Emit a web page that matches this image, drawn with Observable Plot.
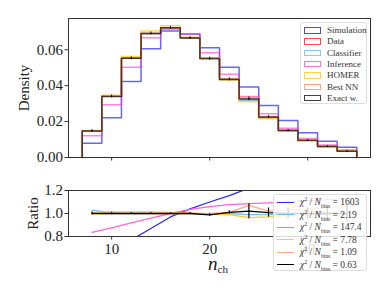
<!DOCTYPE html>
<html><head><meta charset="utf-8">
<script src="https://cdn.jsdelivr.net/npm/d3@7"></script>
<script src="https://cdn.jsdelivr.net/npm/@observablehq/plot@0.6"></script>
<style>
body{margin:0;background:#fff;}
#wrap{position:relative;width:389px;height:292px;overflow:hidden;font-family:"Liberation Serif",serif;color:#222;}
#wrap svg{position:absolute;left:0;}
.leg{position:absolute;background:rgba(255,255,255,0.82);border:1px solid #ddd;border-radius:3px;box-sizing:border-box;}
.row{position:absolute;left:0;white-space:nowrap;}
.row sup,.row sub{line-height:0;}
</style></head>
<body><div id="wrap"></div>
<script>
// ---- data ----
const edges = [7, 9, 11, 13, 15, 17, 19, 21, 23, 25, 27, 29, 31, 33, 35];
const centers = [8, 10, 12, 14, 16, 18, 20, 22, 24, 26, 28, 30, 32, 34];
const simulation = [0.0080, 0.0221, 0.0423, 0.0605, 0.0704, 0.0688, 0.0611, 0.0503, 0.0392, 0.0290, 0.0206, 0.0138, 0.0091, 0.0057];
const dataH      = [0.0147, 0.0341, 0.0553, 0.0690, 0.0722, 0.0667, 0.0556, 0.0436, 0.0322, 0.0223, 0.0150, 0.0096, 0.0061, 0.0036];
const classifier = [0.0151, 0.0342, 0.0553, 0.0690, 0.0722, 0.0667, 0.0553, 0.0436, 0.0319, 0.0221, 0.0149, 0.0096, 0.0061, 0.0036];
const inference  = [0.0121, 0.0294, 0.0503, 0.0667, 0.0714, 0.0688, 0.0583, 0.0464, 0.0340, 0.0243, 0.0163, 0.0106, 0.0069, 0.0042];
const homer      = [0.0149, 0.0346, 0.0562, 0.0704, 0.0734, 0.0670, 0.0553, 0.0432, 0.0311, 0.0216, 0.0147, 0.0095, 0.0061, 0.0036];
const bestNN     = [0.0147, 0.0341, 0.0553, 0.0690, 0.0722, 0.0667, 0.0556, 0.0440, 0.0335, 0.0227, 0.0154, 0.0100, 0.0064, 0.0038];
const exactW     = [0.0147, 0.0340, 0.0552, 0.0691, 0.0722, 0.0665, 0.0550, 0.0435, 0.0327, 0.0225, 0.0150, 0.0095, 0.0061, 0.0035];
const exactErr   = [0.0008, 0.0008, 0.0008, 0.0008, 0.0008, 0.0008, 0.0008, 0.0008, 0.0010, 0.0008, 0.0006, 0.0005, 0.0005, 0.0005];

const rSim   = [0.57, 0.67, 0.77, 0.87, 0.97, 1.04, 1.10, 1.155, 1.22, 1.30, 1.38, 1.45, 1.52, 1.60];
const rClf   = [1.03, 1.005, 1.0, 1.0, 1.0, 1.0, 0.995, 1.0, 0.99, 0.99, 0.99, 1.0, 1.0, 1.0];
const rInf   = [0.835, 0.876, 0.918, 0.959, 1.0, 1.035, 1.06, 1.078, 1.085, 1.092, 1.10, 1.11, 1.12, 1.13];
const rHomer = [1.01, 1.015, 1.015, 1.015, 1.01, 1.005, 0.995, 0.99, 0.965, 0.97, 0.98, 0.99, 1.0, 1.0];
const rBest  = [1.0, 1.0, 1.0, 1.0, 1.0, 1.0, 1.0, 1.01, 1.07, 1.02, 1.03, 1.04, 1.05, 1.06];
const rExact = [1.0, 1.0, 1.0, 1.0, 1.0, 1.0, 0.988, 1.01, 1.02, 1.008, 1.0, 1.0, 1.0, 1.0];
const rExactErr = [0.012, 0.01, 0.008, 0.008, 0.008, 0.008, 0.012, 0.015, 0.065, 0.04, 0.045, 0.05, 0.06, 0.07];

const histNames = ["Simulation", "Data", "Classifier", "Inference", "HOMER", "Best NN", "Exact w."];
const chi2Labels = ["1603", "2.19", "147.4", "7.78", "1.09", "0.63"];

const histSeries = [
  {name: "Simulation", v: simulation, c: "#0000ff", o: 0.6},
  {name: "Data", v: dataH, c: "#ff0000", o: 0.6},
  {name: "Classifier", v: classifier, c: "#3cb4f0", o: 0.55},
  {name: "Inference", v: inference, c: "#ff33cc", o: 0.6},
  {name: "HOMER", v: homer, c: "#ffc400", o: 0.65},
  {name: "Best NN", v: bestNN, c: "#ff7f50", o: 0.6},
  {name: "Exact w.", v: exactW, c: "#000000", o: 0.65}
];
const ratioSeries = [
  {v: rSim, c: "#2a2af0"},
  {v: rClf, c: "#6cc4f4"},
  {v: rInf, c: "#ff66d6"},
  {v: rHomer, c: "#ffcc1a"},
  {v: rBest, c: "#ffa888"},
  {v: rExact, c: "#000000"}
];

function stepPts(v) {
  const p = [{x: edges[0], y: 0}];
  v.forEach((y, i) => p.push({x: edges[i], y}));
  p.push({x: edges[edges.length - 1], y: v[v.length - 1]});
  p.push({x: edges[edges.length - 1], y: 0});
  return p;
}

const font = {fontFamily: "'Liberation Serif', serif", fontSize: "15px", background: "transparent", color: "#222"};
const xDomain = [5.6, 36.4];

const topPlot = Plot.plot({
  width: 389, height: 165,
  marginLeft: 68, marginRight: 19, marginTop: 18, marginBottom: 8,
  x: {domain: xDomain},
  y: {domain: [0, 0.0774]},
  style: font,
  marks: [
    Plot.axisY({ticks: [0, 0.02, 0.04, 0.06], tickFormat: d3.format(".2f"), tickSize: 3.5, tickPadding: 2, label: "Density", labelAnchor: "center", labelArrow: "none", labelOffset: 50, stroke: "#333"}),
    Plot.axisX({ticks: [10, 20, 30], tickFormat: () => "", tickSize: 3.5, label: null, stroke: "#333"}),
    ...histSeries.map(s => Plot.line(stepPts(s.v), {x: "x", y: "y", curve: "step-after", stroke: s.c, strokeOpacity: s.o, strokeWidth: 1.5})),
    Plot.ruleX(centers, {x: d => d, y1: (d, i) => exactW[i] - exactErr[i], y2: (d, i) => exactW[i] + exactErr[i], stroke: "#000", strokeWidth: 1}),
    Plot.frame({stroke: "#333", strokeWidth: 1})
  ]
});

const botPlot = Plot.plot({
  width: 389, height: 127,
  marginLeft: 68, marginRight: 19, marginTop: 25, marginBottom: 56,
  x: {domain: xDomain},
  y: {domain: [0.8, 1.2]},
  style: font,
  marks: [
    Plot.axisY({ticks: [0.8, 1.0, 1.2], tickFormat: d3.format(".1f"), tickSize: 3.5, tickPadding: 2, label: "Ratio", labelAnchor: "center", labelArrow: "none", labelOffset: 41, stroke: "#333"}),
    Plot.axisX({ticks: [10, 20, 30], tickFormat: d3.format("d"), tickSize: 3.5, tickPadding: 3, label: null, stroke: "#333"}),
    ...ratioSeries.map(s => Plot.line(centers, {x: d => d, y: (d, i) => s.v[i], stroke: s.c, strokeWidth: 1.3, clip: true})),
    Plot.ruleX(centers, {x: d => d, y1: (d, i) => rExact[i] - rExactErr[i], y2: (d, i) => rExact[i] + rExactErr[i], stroke: "#000", strokeWidth: 1.2, clip: true}),
    Plot.frame({stroke: "#333", strokeWidth: 1})
  ]
});

const wrap = document.getElementById("wrap");
topPlot.style.top = "0px";
botPlot.style.top = "165px";
wrap.appendChild(topPlot);
wrap.appendChild(botPlot);

// x label
const xl = document.createElement("div");
xl.style.cssText = "position:absolute;left:208px;top:254px;font-size:19px;line-height:19px;";
xl.innerHTML = "<i>n</i><sub style='font-size:11px;line-height:0;vertical-align:-3px'>ch</sub>";
wrap.appendChild(xl);

// legend 1
const l1 = document.createElement("div");
l1.className = "leg";
l1.style.cssText += "left:300px;top:22px;width:67px;height:82px;";
histSeries.forEach((s, i) => {
  const r = document.createElement("div");
  r.className = "row";
  r.style.cssText += `top:${2 + i * 11.3}px;height:10px;font-size:9px;line-height:10px;`;
  r.innerHTML = `<span style="position:absolute;left:3px;top:2px;width:15px;height:4.5px;border:1.3px solid ${s.c};opacity:${Math.min(1, s.o + 0.1)};"></span><span style="position:absolute;left:26px;top:0px;color:#333;">${histNames[i]}</span>`;
  l1.appendChild(r);
});
wrap.appendChild(l1);

// legend 2
const l2 = document.createElement("div");
l2.className = "leg";
l2.style.cssText += "left:273px;top:194px;width:94px;height:77px;";
ratioSeries.forEach((s, i) => {
  const r = document.createElement("div");
  r.className = "row";
  r.style.cssText += `top:${1 + i * 12.5}px;height:12px;font-size:9.5px;line-height:12px;`;
  r.innerHTML = `<span style="position:absolute;left:3px;top:5.5px;width:17px;height:0;border-top:1.5px solid ${s.c};"></span><span style="position:absolute;left:26px;top:0;color:#333;"><i>χ</i><sup style="font-size:6px;">2</sup> / <i>N</i><sub style="font-size:5.5px;">bins</sub> = ${chi2Labels[i]}</span>`;
  l2.appendChild(r);
});
wrap.appendChild(l2);
</script></body></html>
